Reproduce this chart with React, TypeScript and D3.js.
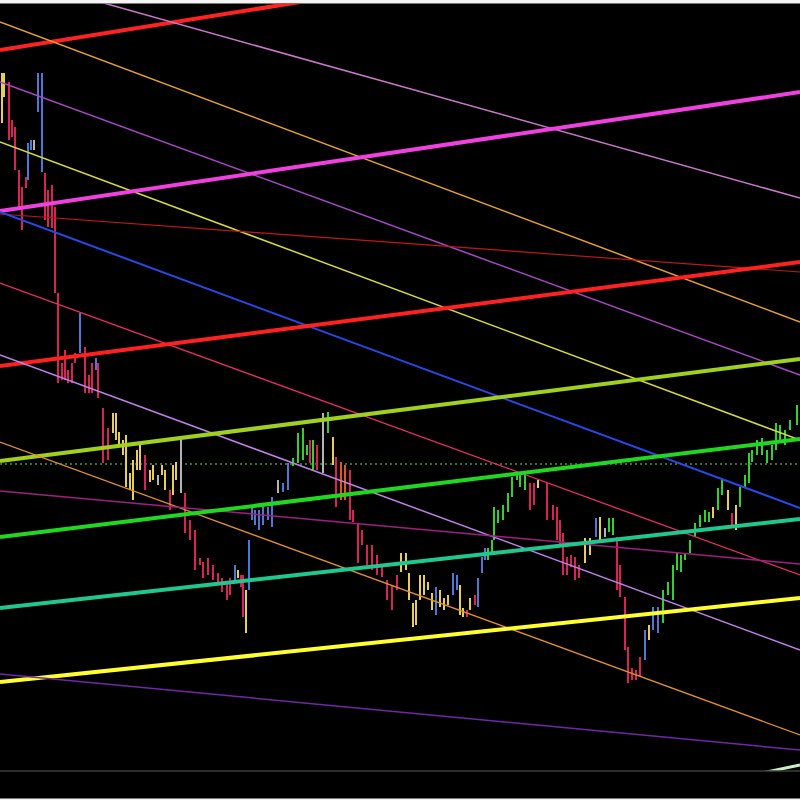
import React from 'react';
import * as d3 from 'd3';

// session clock (minutes) and price in points
const SESSION = [0, 1600];
const PRICE = [0, 800];

// bars: [minute, high, low, tone]
type Bar = [number, number, number, string];

const openingDrop: Bar[] = [
  [4, 727, 677, 'y'], [8, 727, 703, 'y'], [18, 718, 660, 'r'], [24, 680, 663, 'r'],
  [30, 673, 630, 'r'], [38, 630, 590, 'r'], [44, 613, 570, 'r'], [52, 623, 612, 'r'],
  [56, 657, 620, 'b'], [62, 660, 650, 'b'], [68, 660, 650, 'w'], [76, 727, 688, 'b'],
  [84, 727, 628, 'b'], [90, 627, 580, 'r'], [96, 610, 573, 'r'], [104, 615, 572, 'r'],
  [110, 593, 507, 'r'], [116, 507, 417, 'r'], [124, 437, 420, 'r'], [130, 450, 420, 'r'],
  [136, 430, 417, 'r'], [144, 437, 417, 'r'], [150, 447, 437, 'r'], [160, 487, 447, 'b'],
  [170, 453, 407, 'r'], [178, 425, 407, 'r'], [184, 437, 407, 'r'], [192, 442, 430, 'b'],
  [196, 437, 402, 'r'], [206, 392, 337, 'r'], [216, 372, 340, 'r'],
];

const firstBase: Bar[] = [
  [226, 387, 367, 'y'], [232, 387, 360, 'y'], [238, 368, 353, 'y'], [246, 360, 345, 'y'],
  [252, 365, 313, 'y'], [260, 327, 310, 'y'], [266, 340, 300, 'y'], [274, 350, 330, 'y'],
  [280, 355, 330, 'y'], [290, 345, 310, 'r'], [300, 330, 318, 'y'], [306, 335, 320, 'y'],
  [316, 325, 315, 'w'], [324, 335, 325, 'y'], [330, 330, 310, 'y'], [340, 310, 290, 'r'],
  [346, 335, 305, 'y'], [352, 338, 320, 'y'], [362, 360, 307, 'w'],
];

const slideOne: Bar[] = [
  [370, 307, 267, 'r'], [380, 280, 260, 'r'], [390, 270, 230, 'r'], [400, 242, 235, 'r'],
  [406, 238, 222, 'r'], [416, 242, 225, 'r'], [426, 235, 220, 'r'], [436, 227, 215, 'r'],
  [444, 222, 208, 'r'], [454, 218, 200, 'r'], [460, 222, 205, 'r'], [470, 235, 220, 'b'],
  [476, 230, 222, 'y'], [482, 225, 213, 'r'], [486, 225, 183, 'r'], [492, 210, 167, 'y'],
];

const rallyOne: Bar[] = [
  [498, 260, 210, 'b'], [504, 292, 280, 'b'], [510, 290, 275, 'b'], [518, 290, 270, 'b'],
  [526, 295, 275, 'b'], [536, 293, 280, 'b'], [544, 303, 273, 'b'], [556, 320, 307, 'w'],
  [566, 317, 308, 'b'], [576, 337, 310, 'b'], [586, 342, 334, 'g'], [596, 367, 337, 'g'],
  [606, 372, 340, 'g'], [614, 355, 345, 'g'], [620, 360, 337, 'r'], [626, 360, 330, 'g'],
  [634, 355, 330, 'r'], [646, 387, 327, 'w'], [656, 388, 367, 'g'], [666, 363, 335, 'y'],
];

const slideTwo: Bar[] = [
  [672, 343, 293, 'r'], [682, 338, 300, 'o'], [690, 335, 300, 'o'], [700, 330, 280, 'r'],
  [706, 290, 278, 'r'], [716, 277, 237, 'r'], [724, 270, 255, 'r'], [734, 255, 235, 'r'],
  [744, 255, 230, 'r'], [754, 245, 225, 'r'], [764, 235, 223, 'r'], [774, 220, 200, 'r'],
  [784, 215, 190, 'r'], [794, 225, 210, 'r'],
];

const lowBase: Bar[] = [
  [802, 247, 228, 'y'], [812, 247, 230, 'y'], [818, 227, 200, 'y'], [826, 197, 173, 'y'],
  [832, 200, 175, 'y'], [840, 225, 200, 'y'], [848, 225, 205, 'y'], [856, 218, 210, 'y'],
  [864, 207, 190, 'y'], [872, 213, 185, 'b'], [880, 210, 193, 'y'], [888, 202, 190, 'y'],
  [896, 205, 195, 'y'], [906, 227, 205, 'b'], [914, 225, 210, 'b'], [920, 215, 185, 'y'],
  [926, 192, 183, 'y'], [934, 190, 183, 'r'], [940, 202, 190, 'y'], [950, 205, 195, 'r'],
  [956, 222, 193, 'b'],
];

const rallyTwo: Bar[] = [
  [964, 243, 227, 'b'], [970, 252, 240, 'b'], [976, 252, 240, 'g'], [984, 260, 248, 'g'],
  [988, 293, 260, 'g'], [996, 290, 277, 'g'], [1006, 295, 280, 'g'], [1016, 307, 288, 'g'],
  [1024, 323, 303, 'g'], [1034, 328, 320, 'g'], [1040, 328, 313, 'g'], [1050, 325, 310, 'g'],
  [1060, 317, 290, 'r'], [1068, 317, 295, 'r'], [1076, 320, 312, 'y'],
];

const slideThree: Bar[] = [
  [1094, 317, 280, 'r'], [1106, 295, 280, 'r'], [1114, 293, 260, 'r'], [1120, 280, 255, 'r'],
  [1126, 267, 225, 'r'], [1134, 243, 225, 'r'], [1142, 245, 233, 'r'], [1150, 243, 220, 'r'],
  [1158, 235, 222, 'r'], [1170, 262, 237, 'y'], [1180, 262, 245, 'y'], [1192, 282, 263, 'b'],
  [1200, 283, 260, 'y'], [1210, 272, 263, 'w'], [1218, 282, 268, 'g'], [1226, 282, 265, 'g'],
  [1234, 263, 210, 'r'], [1240, 235, 203, 'r'], [1250, 203, 150, 'r'], [1256, 153, 117, 'r'],
  [1264, 132, 120, 'r'], [1272, 130, 120, 'r'], [1280, 143, 123, 'r'],
];

const finalRally: Bar[] = [
  [1290, 170, 140, 'b'], [1298, 175, 160, 'y'], [1306, 193, 170, 'b'], [1316, 193, 167, 'b'],
  [1326, 210, 177, 'g'], [1336, 218, 205, 'g'], [1346, 235, 200, 'g'], [1354, 247, 230, 'g'],
  [1362, 245, 228, 'g'], [1370, 247, 240, 'g'], [1380, 260, 247, 'g'], [1390, 277, 263, 'g'],
  [1400, 285, 273, 'g'], [1410, 290, 278, 'g'], [1418, 288, 278, 'g'], [1426, 293, 282, 'y'],
  [1436, 312, 290, 'g'], [1444, 320, 305, 'g'], [1456, 310, 290, 'y'], [1464, 287, 275, 'r'],
  [1472, 295, 270, 'y'], [1480, 313, 293, 'g'], [1490, 325, 313, 'g'], [1498, 347, 317, 'g'],
  [1504, 350, 338, 'g'], [1514, 360, 345, 'g'], [1524, 362, 345, 'g'], [1534, 350, 337, 'g'],
  [1544, 355, 340, 'g'], [1552, 377, 350, 'g'], [1560, 375, 360, 'g'], [1570, 370, 355, 'g'],
  [1580, 380, 370, 'g'], [1594, 395, 375, 'g'],
];

// trendlines: price at session open and at session close
const trendNames = [
  'redTop', 'mauveTop', 'orangeTop', 'violetUpper', 'khaki', 'magenta', 'redThin',
  'blue', 'pinkThin', 'redMid', 'lavender', 'lime', 'orangeLow', 'plum', 'green',
  'teal', 'yellow', 'purpleLow',
];
const trendFrom = [750, 826, 778, 718, 658, 589, 586, 588, 517, 434, 445, 339, 358, 309, 263, 192, 118, 126];
const trendTo = [878, 602, 478, 425, 360, 708, 528, 292, 225, 538, 150, 441, 65, 236, 361, 281, 202, 50];

// a late line that only peeks in at the bottom right: [minute, price]
const mintLine = [[1400, 14], [1600, 35]];

// horizontal levels
const dottedLevel = 336;
const floorLevel = 29;

const toneColor: Record<string, string> = {
  y: '#e6cf52', r: '#d82258', b: '#4c78d6', g: '#2fd22f', w: '#b4b4b4', o: '#e8561e',
};

const trendStyle: Record<string, { c: string; w: number }> = {
  redTop: { c: '#ff2222', w: 4 },
  mauveTop: { c: '#c878c8', w: 1.5 },
  orangeTop: { c: '#e8a030', w: 1.5 },
  violetUpper: { c: '#a848c8', w: 1.5 },
  khaki: { c: '#d8d840', w: 1.5 },
  magenta: { c: '#f040e0', w: 4 },
  redThin: { c: '#c01818', w: 1.2 },
  blue: { c: '#2848e8', w: 2 },
  pinkThin: { c: '#e83060', w: 1.3 },
  redMid: { c: '#ff2020', w: 4 },
  lavender: { c: '#c080e8', w: 1.5 },
  lime: { c: '#a0d020', w: 4 },
  orangeLow: { c: '#e09030', w: 1.3 },
  plum: { c: '#a02080', w: 1.5 },
  green: { c: '#20d820', w: 4 },
  teal: { c: '#20c890', w: 4 },
  yellow: { c: '#ffff30', w: 4 },
  purpleLow: { c: '#7028a8', w: 1.5 },
};

const W = 800;
const H = 800;

export default function App() {
  const x = d3.scaleLinear().domain(SESSION).range([0, W]);
  const y = d3.scaleLinear().domain(PRICE).range([H, 0]);
  const bars = [
    ...openingDrop, ...firstBase, ...slideOne, ...rallyOne, ...slideTwo,
    ...lowBase, ...rallyTwo, ...slideThree, ...finalRally,
  ];
  const line = d3.line<number[]>().x(d => x(d[0])).y(d => y(d[1]));

  return (
    <svg width={W} height={H} style={{ position: 'absolute', left: 0, top: 0, display: 'block' }}>
      <defs>
        <clipPath id="plot">
          <rect x={0} y={3.5} width={W} height={y(floorLevel) - 4} />
        </clipPath>
      </defs>
      <rect width={W} height={H} fill="#f4f4f4" />
      <rect x={0} y={3.5} width={W} height={795} fill="#000" />
      <g clipPath="url(#plot)">
        <line x1={0} x2={W} y1={y(dottedLevel)} y2={y(dottedLevel)}
          stroke="#3c9a3c" strokeWidth={1.5} strokeDasharray="2 3" />
        {bars.map((b, i) => (
          <line key={i} x1={x(b[0])} x2={x(b[0])} y1={y(b[1])} y2={y(b[2])}
            stroke={toneColor[b[3]]} strokeWidth={2} />
        ))}
        {trendNames.map((n, i) => (
          <path key={n}
            d={line([[SESSION[0], trendFrom[i]], [SESSION[1], trendTo[i]]]) || ''}
            stroke={trendStyle[n].c} strokeWidth={trendStyle[n].w} fill="none" />
        ))}
        <path d={line(mintLine) || ''} stroke="#c8f0c8" strokeWidth={3} fill="none" />
      </g>
      <line x1={0} x2={W} y1={y(floorLevel)} y2={y(floorLevel)} stroke="#5a5a5a" strokeWidth={1.2} />
    </svg>
  );
}
